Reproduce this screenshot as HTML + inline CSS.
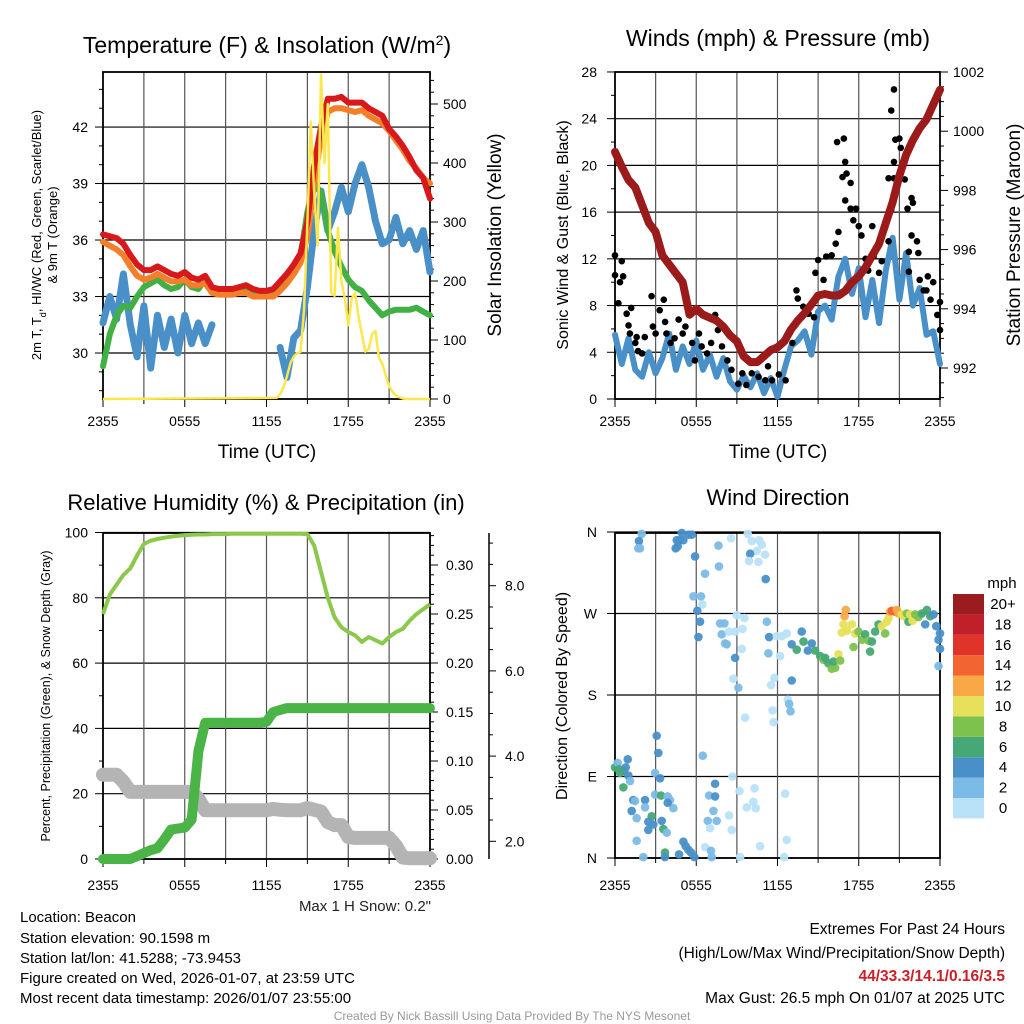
<!DOCTYPE html>
<html><head><meta charset="utf-8"><title>Beacon Mesonet Meteogram</title>
<style>
html,body{margin:0;padding:0;background:#fff;}
svg{display:block;font-family:"Liberation Sans",Arial,sans-serif;}
</style></head>
<body>
<svg id="chart" xmlns="http://www.w3.org/2000/svg" width="1024" height="1024" viewBox="0 0 1024 1024">
<rect x="0" y="0" width="1024" height="1024" fill="#fff"/>
<g id="layer"></g>
<!-- titles -->
<text x="267" y="53" font-size="23" text-anchor="middle">Temperature (F) &amp; Insolation (W/m<tspan baseline-shift="super" font-size="14">2</tspan>)</text>
<text x="778" y="46" font-size="23" text-anchor="middle">Winds (mph) &amp; Pressure (mb)</text>
<text x="266" y="510" font-size="22" text-anchor="middle">Relative Humidity (%) &amp; Precipitation (in)</text>
<text x="778" y="505" font-size="22" text-anchor="middle">Wind Direction</text>
<text x="267" y="458" font-size="19" text-anchor="middle">Time (UTC)</text>
<text x="778" y="458" font-size="19" text-anchor="middle">Time (UTC)</text>
<!-- y titles -->
<text transform="translate(41,235) rotate(-90)" font-size="13" text-anchor="middle">2m T, T<tspan baseline-shift="sub" font-size="9">d</tspan>, HI/WC (Red, Green, Scarlet/Blue)</text>
<text transform="translate(57,235) rotate(-90)" font-size="13" text-anchor="middle">&amp; 9m T (Orange)</text>
<text transform="translate(501,235) rotate(-90)" font-size="19" text-anchor="middle">Solar Insolation (Yellow)</text>
<text transform="translate(568,235) rotate(-90)" font-size="16" text-anchor="middle">Sonic Wind &amp; Gust (Blue, Black)</text>
<text transform="translate(1020,235) rotate(-90)" font-size="19" text-anchor="middle">Station Pressure (Maroon)</text>
<text transform="translate(50,696) rotate(-90)" font-size="12.5" text-anchor="middle">Percent, Precipitation (Green), &amp; Snow Depth (Gray)</text>
<text transform="translate(567,696) rotate(-90)" font-size="16" text-anchor="middle">Direction (Colored By Speed)</text>
<!-- notes -->
<text x="431" y="911" font-size="15" text-anchor="end" fill="#222">Max 1 H Snow: 0.2"</text>
<g font-size="15" fill="#000">
<text x="20" y="922">Location: Beacon</text>
<text x="20" y="943">Station elevation: 90.1598 m</text>
<text x="20" y="963">Station lat/lon: 41.5288; -73.9453</text>
<text x="20" y="983">Figure created on Wed, 2026-01-07, at 23:59 UTC</text>
<text x="20" y="1003">Most recent data timestamp: 2026/01/07 23:55:00</text>
</g>
<g font-size="15.5" text-anchor="end">
<text x="1005" y="934">Extremes For Past 24 Hours</text>
<text x="1005" y="958">(High/Low/Max Wind/Precipitation/Snow Depth)</text>
<text x="1005" y="981" fill="#cc2027" font-weight="bold">44/33.3/14.1/0.16/3.5</text>
<text x="1005" y="1003">Max Gust: 26.5 mph On 01/07 at 2025 UTC</text>
</g>
<text x="512" y="1020" font-size="12" fill="#999" text-anchor="middle">Created By Nick Bassill Using Data Provided By The NYS Mesonet</text>
</svg>
<script>
// ---------- data ----------
const hours = [0,0.5,1,1.5,2,2.5,3,3.5,4,4.5,5,5.5,6,6.5,7,7.5,8,8.5,9,9.5,10,10.5,11,11.5,12,12.5,13,13.5,14,14.5,15,15.5,16,16.5,17,17.5,18,18.5,19,19.5,20,20.5,21,21.5,22,22.5,23,23.5,24];
const xTickLabels = ["2355","0555","1155","1755","2355"];
const xTickHours = [0,6,12,18,24];
const tempRed = [36.3,36.2,36.1,35.8,35.2,34.7,34.4,34.4,34.6,34.4,34.2,34.1,34.3,34.0,33.9,34.1,33.5,33.4,33.4,33.4,33.5,33.6,33.4,33.3,33.3,33.4,33.8,34.2,34.7,35.3,37.0,40.0,42.0,43.5,43.5,43.6,43.3,43.3,43.3,43.0,42.8,42.6,41.9,41.5,41.0,40.4,39.7,39.3,38.2];
const tempOrange = [35.9,35.7,35.5,35.2,34.6,34.1,33.9,34.0,34.2,34.0,33.8,33.8,33.9,33.6,33.6,33.7,33.2,33.1,33.1,33.1,33.2,33.2,33.0,33.0,33.0,33.0,33.3,33.7,34.2,34.8,36.2,39.0,41.5,42.8,43.0,43.0,42.9,42.8,42.9,42.6,42.4,42.2,41.8,41.3,40.8,40.2,39.8,39.3,39.0];
const dewGreen = [29.3,31.0,32.0,32.5,32.4,33.0,33.5,33.7,33.9,33.6,33.4,33.5,33.9,33.5,33.4,33.9,33.3,33.2,33.2,33.2,33.2,33.3,33.2,33.1,33.1,33.2,33.6,34.1,34.6,35.2,37.5,39.0,38.5,36.5,35.4,34.6,33.9,33.5,33.3,32.8,32.4,32.0,32.2,32.3,32.3,32.3,32.4,32.2,32.0];
const chillBlue = [31.6,33.0,31.8,34.2,31.5,29.8,32.5,29.2,32.0,30.3,31.8,30.0,32.0,30.5,31.6,30.5,31.5,null,null,null,null,null,null,null,null,null,30.3,28.7,30.8,31.2,33.5,36.5,38.6,36.5,37.5,38.8,37.5,39.0,40.0,38.8,37.0,35.8,36.0,37.2,35.8,36.5,35.5,36.5,34.3];
const solarHours = [0,12.75,13,13.25,13.5,13.75,14,14.25,14.5,14.75,15,15.25,15.5,15.75,16,16.25,16.5,16.75,17,17.25,17.5,17.75,18,18.25,18.5,18.75,19,19.25,19.5,19.75,20,20.25,20.5,20.75,21,21.25,21.5,21.75,22,22.25,24];
const solarValues = [0,2,8,20,38,60,72,78,80,150,300,470,350,260,550,400,500,180,175,290,200,170,125,170,180,140,110,80,85,110,115,70,60,40,22,12,6,3,1,0,0];
const tempTicks = [30,33,36,39,42];
const solarTicks = [0,100,200,300,400,500];

const windBlue = [5.5,3.0,5.2,2.5,1.9,4.0,2.2,3.5,5.6,2.5,4.5,3.0,5.0,2.5,3.8,1.9,3.5,1.5,0.8,2.0,1.0,2.2,0.5,1.8,0.2,2.5,4.5,5.0,5.8,3.8,7.5,8.0,6.8,10.5,12.0,9.0,11.2,7.0,10.2,6.5,11.0,13.8,8.5,12.5,8.0,9.5,5.5,5.8,3.0];
const pressure = [999.3,998.8,998.35,998.1,997.5,996.9,996.6,995.8,995.5,995.2,994.9,993.8,994.0,993.8,993.7,993.6,993.4,993.1,992.9,992.4,992.2,992.2,992.4,992.6,992.7,992.9,993.3,993.6,993.85,994.15,994.45,994.5,994.45,994.45,994.6,994.9,995.1,995.4,995.8,996.2,996.9,997.6,998.5,999.2,999.7,1000.1,1000.4,1000.9,1001.4];
const gustHours = [0,0,0.25,0.37,0.5,0.6,0.86,1.0,1.2,1.1,1.5,1.6,1.7,2.0,2.2,2.7,2.8,3.0,3.3,3.6,3.7,3.8,4.1,4.4,4.7,5.0,5.2,5.4,5.7,5.9,6.2,6.4,6.8,7.1,7.4,7.6,7.9,8.3,8.6,9.1,9.4,9.7,10.1,10.6,11.1,11.3,11.6,12.1,12.6,13.1,13.4,13.5,13.9,14.3,14.7,14.8,15.0,15.4,15.6,16.0,16.3,16.5,16.4,16.9,17.0,16.8,17.1,17.4,17.0,17.4,17.6,17.8,18.0,18.2,18.5,18.7,19.0,19.1,19.5,19.7,20.2,20.4,20.2,20.6,20.6,20.7,21.0,21.1,20.4,20.6,20.8,21.4,21.9,21.6,22.0,21.9,22.3,21.7,22.4,21.7,22.5,22.8,23.0,23.3,23.5,23.1,23.8,24.0,24.0];
const gustMph = [10.6,12.3,8.2,10.0,11.8,10.5,7.3,6.3,7.8,5.6,4.8,5.3,4.1,3.9,5.3,8.8,6.2,5.6,7.6,8.5,6.6,5.6,4.8,5.2,6.8,5.6,6.2,7.8,4.8,3.3,5.6,4.5,3.9,4.8,7.2,5.9,4.5,3.3,2.5,1.3,2.2,1.2,2.2,1.9,1.6,2.8,1.6,2.1,1.6,4.8,9.3,8.6,7.9,7.3,7.0,10.8,11.9,10.2,12.2,12.3,13.3,14.3,22.0,22.3,20.3,19.0,19.3,18.5,17.0,16.3,15.3,16.3,14.8,14.0,12.0,11.0,14.8,12.2,10.8,11.8,13.5,16.2,18.9,18.9,20.3,22.2,22.3,21.5,24.7,26.5,18.2,18.8,17.2,16.3,16.8,14.0,13.5,12.6,12.5,10.9,10.2,9.3,9.3,8.5,10.0,10.5,7.2,8.3,5.9];
const windTicks = [0,4,8,12,16,20,24,28];
const pressureTicks = [992,994,996,998,1000,1002];

const rhValues = [75,81,84,87,89,93,96.5,97.5,98,98.4,98.7,99.0,99.2,99.3,99.4,99.4,99.5,99.5,99.5,99.6,99.6,99.6,99.6,99.6,99.6,99.6,99.6,99.6,99.6,99.6,99.5,96,88,80,74,71,69.5,68.5,66.5,68,67,66,68,69.5,70.5,73,75,76.5,78];
const precipValues = [0,0,0,0,0,0.003,0.006,0.009,0.011,0.02,0.03,0.031,0.032,0.04,0.11,0.139,0.139,0.139,0.139,0.139,0.139,0.139,0.139,0.139,0.14,0.15,0.152,0.154,0.154,0.154,0.154,0.154,0.154,0.154,0.154,0.154,0.154,0.154,0.154,0.154,0.154,0.154,0.154,0.154,0.154,0.154,0.154,0.154,0.154];
const snowValues = [3.56,3.56,3.56,3.4,3.16,3.16,3.16,3.16,3.16,3.16,3.16,3.16,3.16,3.16,3.0,2.73,2.73,2.73,2.73,2.73,2.73,2.73,2.73,2.73,2.73,2.76,2.74,2.73,2.73,2.73,2.78,2.74,2.7,2.45,2.38,2.38,2.1,2.08,2.08,2.08,2.08,2.08,2.08,1.9,1.62,1.6,1.6,1.6,1.6];
const rhTicks = [0,20,40,60,80,100];
const precipTicks = ["0.00","0.05","0.10","0.15","0.20","0.25","0.30"];
const snowTicks = ["2.0","4.0","6.0","8.0"];

const dirHours = [1.97,1.77,1.72,1.85,4.56,4.8,5.05,5.42,5.67,4.93,4.48,4.63,5.91,6.65,7.64,7.68,8.57,9.8,10.1,10.64,10.84,10.47,11.08,9.98,9.9,10.59,11.13,5.79,6.35,6.45,6.08,6.28,6.16,7.76,8.08,7.88,8.99,9.56,9.41,8.87,8.42,8.13,8.25,8.87,9.36,11.21,11.38,11.33,11.95,12.32,12.68,12.19,11.77,11.53,8.74,9.11,13.05,12.76,12.86,12.96,11.63,11.72,9.61,
13.05,13.42,13.79,13.92,14.24,14.53,14.78,15.15,15.39,15.52,15.76,16.01,16.26,16.5,16.13,16.63,17.04,16.95,16.87,16.75,17.12,17.49,17.73,17.98,18.23,18.47,18.72,17.61,18.84,18.97,19.21,19.46,19.7,19.95,20.07,20.2,20.32,20.44,20.69,20.81,20.94,21.18,21.31,21.55,21.67,21.8,21.97,22.17,22.41,22.66,23.03,23.28,23.52,22.91,23.72,24,23.89,24,23.89,
0,0.2,0.37,0.3,0.62,0.94,0.79,0.99,1.11,0.62,1.35,1.48,2.22,2.96,3.4,3.89,4.06,4.31,3.89,1.23,2.22,1.6,2.71,2.46,2.83,3.45,3.57,3.82,2.46,1.6,2.09,3.69,3.69,4.73,5.05,5.22,5.42,5.62,5.86,3.08,3.2,2.96,3.33,6.48,7.39,6.95,7.39,7.27,6.85,7.51,7.02,6.65,7.09,7.14,8.67,9.19,10.3,9.73,10.22,10.39,8.42,8.62,10.71,12.56,12.68,12.49,9.24];
const dirDegrees = [358,350,342,342,351,351,351,357,357,359,342,344,333,314,345,322,353,358,350,351,346,339,335,336,328,327,308,289,289,280,273,261,244,259,259,247,268,265,253,250,250,237,236,221,231,261,244,226,245,245,248,223,199,191,198,188,196,175,170,162,163,150,155,
236,230,250,239,229,237,229,223,219,221,215,209,210,225,217,218,274,267,258,249,251,258,248,250,241,247,240,233,228,239,250,258,256,248,261,265,272,273,272,274,270,269,267,270,261,269,262,269,266,270,274,267,269,258,256,248,241,231,212,
100,105,94,98,96,109,100,91,85,78,64,63,64,70,69,68,64,55,61,52,56,44,46,40,37,41,32,28,31,19,1,6,1,4,18,13,9,6,1,135,116,94,88,113,82,69,68,52,41,41,33,12,8,1,90,74,77,56,62,55,47,31,13,71,20,1,1];
const dirSpeeds = [2,4,2,2,4,4,4,4,4,4,4,4,4,2,2,2,0,0,0,0,0,0,0,4,0,0,4,2,2,0,4,4,4,2,2,2,0,0,0,0,0,2,2,4,0,2,4,2,0,0,0,0,0,0,0,2,4,0,2,2,0,0,0,
4,6,4,6,4,4,6,6,8,6,6,8,8,10,6,8,12,12,10,10,10,10,10,8,8,6,8,8,6,6,6,6,10,8,10,10,12,14,14,12,12,10,10,8,6,10,10,8,8,6,6,6,4,4,4,4,4,4,2,
6,2,6,6,6,4,4,4,2,6,4,2,4,2,6,2,2,2,4,4,2,2,6,4,4,4,6,2,4,2,2,6,4,4,4,4,4,4,4,4,4,2,4,2,4,2,4,2,2,2,0,0,2,2,0,0,0,0,0,0,0,0,0,0,0,0,0];
const dirTickLabels = ["N","E","S","W","N"];
const dirTickDegrees = [0,90,180,270,360];
const speedBins = ["0","2","4","6","8","10","12","14","16","18","20+"];
const speedColors = ["#b8e2f8","#7cbbe6","#4a90c8","#46a874","#7ec24e","#e7e05a","#f8a946","#f26430","#e0342b","#c1202a","#9b1c1f"];

// ---------- scales ----------
const x1 = h => 103 + h * 327 / 24;
const yT = t => 353 - (t - 30) * 18.83;
const yS = s => 399 - s * 0.59;
const x2 = h => 615 + h * 325 / 24;
const yW = v => 399 - v * 11.68;
const yP = p => 72 + (1002 - p) * 29.6;
const yRH = r => 859 - r * 3.265;
const yPr = p => 859 - p * 980;
const ySn = s => 926.5 - s * 42.6;
const yD = d => 858 - d * 326 / 360;

const NS = "http://www.w3.org/2000/svg";
const layer = document.getElementById("layer");
function mk(tag, attrs, parent) {
  const e = document.createElementNS(NS, tag);
  for (const k in attrs) e.setAttribute(k, attrs[k]);
  (parent || layer).appendChild(e);
  return e;
}
function label(x, y, txt, anchor, size) {
  const t = mk("text", {x: x, y: y, "text-anchor": anchor, "font-size": size || 14});
  t.textContent = txt;
  return t;
}
function pathFrom(xs, ys) {
  let d = "", pen = false;
  for (let i = 0; i < xs.length; i++) {
    if (ys[i] === null) { pen = false; continue; }
    d += (pen ? "L" : "M") + xs[i].toFixed(1) + " " + ys[i].toFixed(1);
    pen = true;
  }
  return d;
}

// ---------- frames & grids ----------
function frame(L, T, R, B, name) {
  for (let k = 1; k < 8; k++) {
    const gx = L + (R - L) * k / 8;
    const g = mk("line", {x1: gx, y1: T, x2: gx, y2: B, stroke: "#555", "stroke-width": 1.2});
    
    
  }
  for (let k = 0; k <= 8; k++) {
    const gx = L + (R - L) * k / 8;
    const tk = mk("line", {x1: gx, y1: B, x2: gx, y2: B + (k % 2 === 0 ? 8 : 5), stroke: "#000", "stroke-width": 1});
    
    
  }
  const r = mk("rect", {x: L, y: T, width: R - L, height: B - T, fill: "none", stroke: "#000", "stroke-width": 1.8});
  
  
}
function hgrid(L, R, y, name) {
  const g = mk("line", {x1: L, y1: y, x2: R, y2: y, stroke: "#000", "stroke-width": 1.2});
  
  
}
function tick(x, y, len, name) {
  const t = mk("line", {x1: x, y1: y, x2: x + len, y2: y, stroke: "#000", "stroke-width": 1});
  
  
}

// ===== Panel 1 =====
tempTicks.forEach(v => hgrid(103, 430, yT(v), "temperature"));
frame(103, 72, 430, 399, "temperature");
for (let t = 28; t <= 44; t++) tick(103, yT(t), t % 3 === 0 ? -8 : -4, "temp-tick");
tempTicks.forEach(v => {
  const l = label(88, yT(v) + 5, String(v), "end");
  
  
});
for (let s = 0; s <= 540; s += 20) tick(430, yS(s), s % 100 === 0 ? 8 : 4, "solar-tick");
solarTicks.forEach(v => {
  const l = label(443, yS(v) + 5, String(v), "start");
  
  
});
xTickHours.forEach((h, i) => {
  const l = label(x1(h), 426, xTickLabels[i], "middle");
  
  
  const l2 = label(x2(h), 426, xTickLabels[i], "middle");
  
  
  const l3 = label(x1(h), 890, xTickLabels[i], "middle");
  
  
  const l4 = label(x2(h), 890, xTickLabels[i], "middle");
  
  
});
const hx1 = hours.map(x1);
let p;
p = mk("path", {d: pathFrom(hx1, chillBlue.map(v => v === null ? null : yT(v))), fill: "none", stroke: "#4a90c8", "stroke-width": 7, "stroke-linejoin": "round", "stroke-linecap": "round"});


p = mk("path", {d: pathFrom(hx1, dewGreen.map(yT)), fill: "none", stroke: "#41b045", "stroke-width": 6, "stroke-linejoin": "round", "stroke-linecap": "round"});


p = mk("path", {d: pathFrom(hx1, tempOrange.map(yT)), fill: "none", stroke: "#f47f2b", "stroke-width": 6, "stroke-linejoin": "round", "stroke-linecap": "round"});


p = mk("path", {d: pathFrom(hx1, tempRed.map(yT)), fill: "none", stroke: "#d7191c", "stroke-width": 6, "stroke-linejoin": "round", "stroke-linecap": "round"});


p = mk("path", {d: pathFrom(solarHours.map(x1), solarValues.map(yS)), fill: "none", stroke: "#fde74c", "stroke-width": 2.5, "stroke-linejoin": "round"});



// ===== Panel 2 =====
windTicks.forEach(v => hgrid(615, 940, yW(v), "winds"));
frame(615, 72, 940, 399, "winds");
for (let v = 0; v <= 28; v += 2) tick(615, yW(v), v % 4 === 0 ? -8 : -4, "wind-tick");
windTicks.forEach(v => {
  const l = label(597, yW(v) + 5, String(v), "end");
  
  
});
for (let pr = 991; pr <= 1002; pr += 0.5) tick(940, yP(pr), pr % 2 === 0 ? 8 : 4, "pressure-tick");
pressureTicks.forEach(v => {
  const l = label(953, yP(v) + 5, String(v), "start");
  
  
});
const hx2 = hours.map(x2);
p = mk("path", {d: pathFrom(hx2, windBlue.map(yW)), fill: "none", stroke: "#4a90c8", "stroke-width": 6, "stroke-linejoin": "round", "stroke-linecap": "round"});


gustHours.forEach((h, i) => {
  const c = mk("circle", {cx: x2(h), cy: yW(gustMph[i]), r: 3.3, fill: "#000"});
  
  
});
p = mk("path", {d: pathFrom(hx2, pressure.map(yP)), fill: "none", stroke: "#9b1b1b", "stroke-width": 8, "stroke-linejoin": "round", "stroke-linecap": "round"});



// ===== Panel 3 =====
rhTicks.forEach(v => hgrid(103, 430, yRH(v), "humidity"));
frame(103, 533, 430, 859, "humidity");
for (let v = 0; v <= 100; v += 10) tick(103, yRH(v), v % 20 === 0 ? -8 : -4, "rh-tick");
rhTicks.forEach(v => {
  const l = label(88, yRH(v) + 5, String(v), "end");
  
  
});
for (let k = 0; k <= 33; k++) tick(430, yPr(k / 100), k % 5 === 0 ? 8 : 4, "precip-tick");
precipTicks.forEach(v => {
  const l = label(446, yPr(parseFloat(v)) + 5, v, "start");
  
  
});
const snowAxis = mk("line", {x1: 489, y1: 533, x2: 489, y2: 859, stroke: "#000", "stroke-width": 1.5});


for (let k = 4; k <= 18; k++) tick(489, ySn(k / 2), k % 4 === 0 ? 7 : 4, "snow-tick");
snowTicks.forEach(v => {
  const l = label(505, ySn(parseFloat(v)) + 5, v, "start");
  
  
});
const hx3 = hours.map(x1);
p = mk("path", {d: pathFrom(hx3, snowValues.map(ySn)), fill: "none", stroke: "#b4b4b4", "stroke-width": 14, "stroke-linejoin": "round", "stroke-linecap": "round"});


p = mk("path", {d: pathFrom(hx3, precipValues.map(yPr)), fill: "none", stroke: "#4bb446", "stroke-width": 10, "stroke-linejoin": "round", "stroke-linecap": "round"});


p = mk("path", {d: pathFrom(hx3, rhValues.map(yRH)), fill: "none", stroke: "#8cc84b", "stroke-width": 4, "stroke-linejoin": "round"});



// ===== Panel 4 =====
dirTickDegrees.forEach(d => hgrid(615, 940, yD(d), "direction"));
frame(615, 533, 940, 858, "direction");
dirTickDegrees.forEach((d, i) => {
  tick(615, yD(d), -8, "direction-tick");
  const l = label(597, yD(d) + 5, dirTickLabels[i], "end");
  
  
});
dirHours.forEach((h, i) => {
  const c = mk("circle", {cx: x2(h), cy: yD(dirDegrees[i]), r: 4.3, fill: speedColors[Math.min(10, Math.round(dirSpeeds[i] / 2))], "fill-opacity": 0.95});
  
  
});
// colorbar
const mphLabel = label(1002, 588, "mph", "middle", 15);


speedBins.forEach((b, i) => {
  const yTop = 594 + (10 - i) * 20.4;
  const r = mk("rect", {x: 953, y: yTop, width: 31, height: 20.4, fill: speedColors[i]});
  
  
  const l = label(1003, yTop + 15, b, "middle", 15);
  
  
});
</script>
</body></html>
